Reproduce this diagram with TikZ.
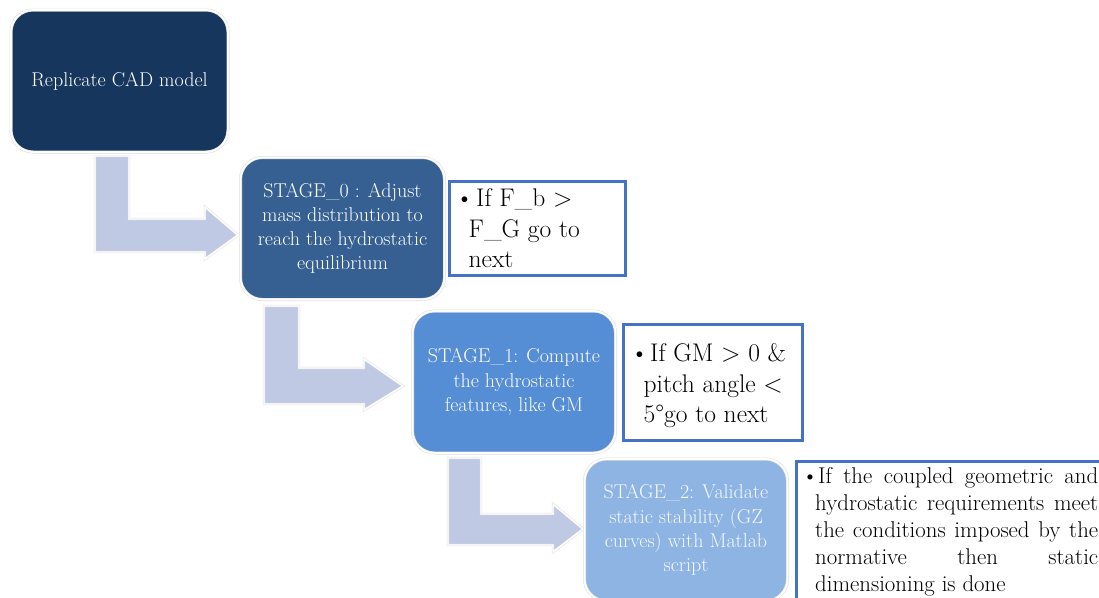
\documentclass[tikz,border=0pt]{standalone}
\definecolor{cA}{HTML}{17365D}
\definecolor{cB}{HTML}{366092}
\definecolor{cC}{HTML}{558ED5}
\definecolor{cD}{HTML}{8EB4E3}
\definecolor{arr}{HTML}{C0C9E4}
\definecolor{bord}{HTML}{4472C4}
\newcommand{\stfont}{\fontsize{20}{24.2}\selectfont}
\newcommand{\btfont}{\fontsize{25.5}{30.5}\selectfont}
\newcommand{\bbfont}{\fontsize{22.8}{27.2}\selectfont}
\tikzset{
  stagebox/.style={rounded corners=22pt, draw=black!12, double=white, double distance=1.8pt, line width=0.6pt,
    minimum width=#1, minimum height=142pt, align=center, text=white, font=\stfont, inner sep=0pt},
  blockarrow/.style={fill=arr, draw=black!12, double=white, double distance=1.4pt, line width=0.5pt},
  condbox/.style={draw=bord, line width=3pt, fill=white},
  condtext/.style={anchor=base west, inner sep=0pt, text=black}
}
\begin{document}
\begin{tikzpicture}[x=1pt,y=-1pt]
\useasboundingbox (0,0) rectangle (1099,597);
\fill[white] (0,0) rectangle (1099,597);
\begin{scope}
\clip (0,0) rectangle (1099,597);
% block arrows
\draw[blockarrow] (95,156) -- (129,156) -- (129,219) -- (205,219) -- (205,207) -- (238,235) -- (205,259) -- (205,252) -- (95,252) -- cycle;
\draw[blockarrow] (264,306) -- (299,306) -- (299,368) -- (364,368) -- (364,359) -- (403,386) -- (364,410) -- (364,404) -- (264,404) -- cycle;
\draw[blockarrow] (448,458) -- (481,458) -- (481,514) -- (553,514) -- (553,504) -- (583,529) -- (553,552) -- (553,545) -- (448,545) -- cycle;
% stage boxes
\node[stagebox=217pt, fill=cA] (a) at (119.5,81) {Replicate CAD model};
\node[stagebox=204pt, fill=cB] (b) at (342.5,228.5) {STAGE\_0 : Adjust\\mass distribution to\\reach the hydrostatic\\equilibrium};
\node[stagebox=203pt, fill=cC] (c) at (514,382) {STAGE\_1: Compute\\the hydrostatic\\features, like GM};
\node[stagebox=203pt, fill=cD, text=white!92!cD] (d) at (686,530) {STAGE\_2: Validate\\static stability (GZ\\curves) with Matlab\\script};
% condition boxes
\draw[condbox] (449.5,181.5) rectangle (625.5,275.5);
\node[condtext] (t1) at (468.5,206.7) {\parbox[t]{150pt}{\btfont\leavevmode\llap{\textbullet\hspace{-5pt}}\hspace{7.5pt}If F\_b >\\F\_G go to\\next}};
\draw[condbox] (623.5,324.5) rectangle (802.5,440.5);
\node[condtext] (t2) at (643.5,361.7) {\parbox[t]{160pt}{\btfont\leavevmode\llap{\textbullet\hspace{-5pt}}\hspace{6.5pt}If GM > 0 \&\\pitch angle <\\5\textdegree go to next}};
\draw[condbox] (796.5,461.5) rectangle (1120,630);
\node[condtext] (t3) at (815,483) {\parbox[t]{295pt}{\bbfont\leavevmode\llap{\textbullet\hspace{-3pt}}\hspace{3pt}\makebox[280pt][s]{If the coupled geometric and}\\\makebox[283pt][s]{hydrostatic requirements meet}\\\makebox[283pt][s]{the conditions imposed by the}\\\makebox[283pt][s]{normative then static}\\dimensioning is done}};
\end{scope}
\end{tikzpicture}
\end{document}
